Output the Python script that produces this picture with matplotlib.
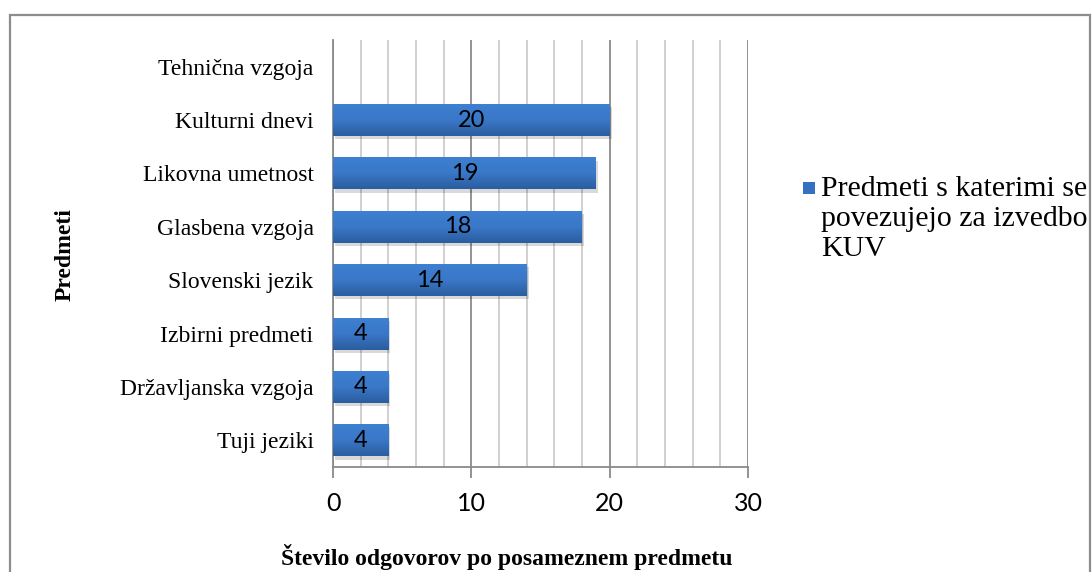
import numpy as np
import matplotlib.pyplot as plt
from matplotlib.patches import Rectangle
from matplotlib.colors import LinearSegmentedColormap

# data (top to bottom as in the chart)
predmeti = ['Tehnična vzgoja', 'Kulturni dnevi', 'Likovna umetnost', 'Glasbena vzgoja',
            'Slovenski jezik', 'Izbirni predmeti', 'Državljanska vzgoja', 'Tuji jeziki']
odgovori = [0, 20, 19, 18, 14, 4, 4, 4]
serija = 'Predmeti s katerimi se\npovezujejo za izvedbo\nKUV'

serif = 'Liberation Serif'
sans = 'Lato'

fig = plt.figure(figsize=(10.92, 5.72), dpi=100)
ax = fig.add_axes([0.305, 0.1836, 0.38, 0.7464])

# outer chart frame
fig.patches.append(Rectangle((10 / 1092, -0.05), 1080 / 1092, 1 - 15 / 572 + 0.05,
                             transform=fig.transFigure, fill=False,
                             edgecolor='#8c8c8c', linewidth=1.6, zorder=0))

y = np.arange(len(predmeti))[::-1]
h = 0.6

# gradient for the bars
grad = np.linspace(0, 1, 256).reshape(-1, 1)
cmap = LinearSegmentedColormap.from_list('bar', ['#3e80d2', '#3a78c8', '#2b5d9f'])

for yi, v in zip(y, odgovori):
    if v <= 0:
        continue
    # shadow
    ax.add_patch(Rectangle((0.15, yi - h / 2 - 0.06), v, h, facecolor='#000000',
                           alpha=0.15, edgecolor='none', zorder=2))
    bar = ax.barh(yi, v, height=h, color='#3670c0', edgecolor='none', zorder=3)[0]
    im = ax.imshow(grad, extent=(0, v, yi - h / 2, yi + h / 2), aspect='auto',
                   cmap=cmap, origin='upper', zorder=4)
    im.set_clip_path(bar)
    ax.text(v / 2, yi, str(v), ha='center', va='center', fontsize=17,
            family=sans, color='black', zorder=5)

ax.set_xlim(0, 30)
ax.set_ylim(-0.5, len(predmeti) - 0.5)
ax.set_aspect('auto')

ax.set_xticks([0, 10, 20, 30])
ax.set_xticks(np.arange(0, 31, 2), minor=True)
ax.grid(True, axis='x', which='minor', color='#c8c8c8', linewidth=1.2, zorder=0)
ax.grid(True, axis='x', which='major', color='#8a8a8a', linewidth=1.3, zorder=1)
ax.set_axisbelow(True)
ax.tick_params(axis='x', which='major', length=8, width=1.3, color='#8a8a8a',
               labelsize=18, pad=10)
ax.tick_params(axis='x', which='minor', length=0)
for lab in ax.get_xticklabels():
    lab.set_family(sans)

ax.set_yticks(y)
ax.set_yticklabels(predmeti, family=serif, fontsize=17)
ax.tick_params(axis='y', length=0, pad=14)

for s in ['top', 'right']:
    ax.spines[s].set_visible(False)
ax.spines['left'].set_color('#8a8a8a')
ax.spines['bottom'].set_color('#8a8a8a')
ax.spines['left'].set_linewidth(1.3)
ax.spines['bottom'].set_linewidth(1.3)

fig.text(507 / 1092, 1 - 557 / 572, 'Število odgovorov po posameznem predmetu',
         family=serif, fontweight='bold', fontsize=17, ha='center', va='center')
fig.text(65 / 1092, 1 - 255 / 572, 'Predmeti', family=serif, fontweight='bold',
         fontsize=17, rotation=90, ha='center', va='center')

# legend
fig.patches.append(Rectangle((803 / 1092, 1 - 194 / 572), 12 / 1092, 12 / 572,
                             transform=fig.transFigure, facecolor='#3670c0',
                             edgecolor='none'))
fig.text(821 / 1092, 1 - 176 / 572, serija, family=serif, fontsize=21.5,
         ha='left', va='top', linespacing=1.2)

fig.savefig('out.png', dpi=100)
